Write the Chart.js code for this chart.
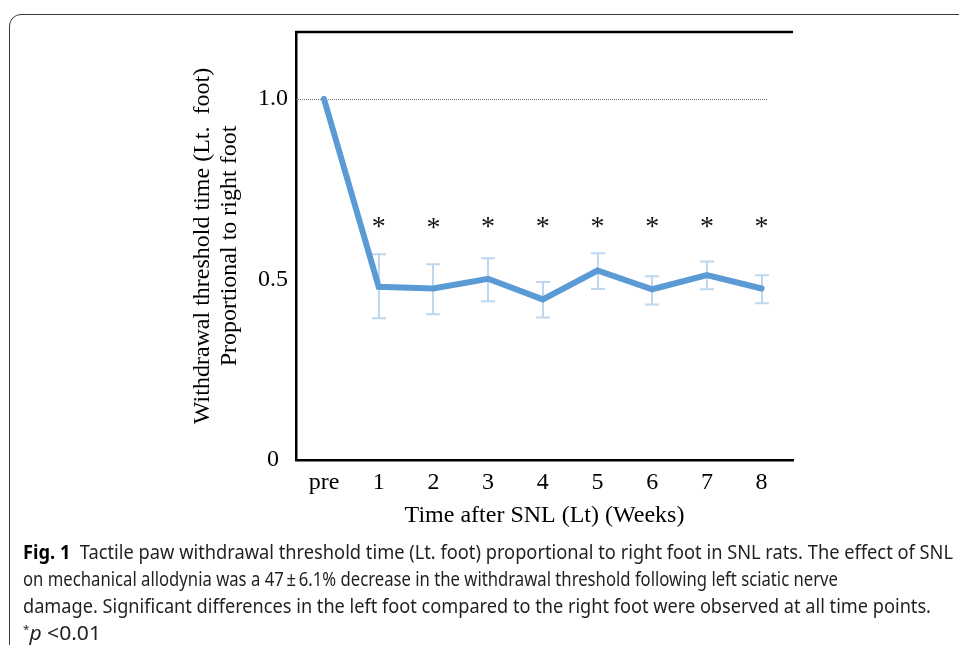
<!DOCTYPE html>
<html>
<head>
<meta charset="utf-8">
<script src="https://cdn.jsdelivr.net/npm/chart.js@4.4.0/dist/chart.umd.min.js"></script>
<style>
  html, body { margin: 0; padding: 0; background: #fff; }
  body { width: 959px; height: 645px; position: relative; overflow: hidden; }
  .frame {
    position: absolute; left: 9px; top: 14px; width: 990px; height: 700px;
    border: 1.5px solid #3a3a3a; border-top-left-radius: 12px; box-sizing: border-box;
  }
  .chart-box { position: absolute; left: 0; top: 0; width: 959px; height: 540px; }
  .caption {
    position: absolute; left: 23px; top: 538px;
    font-family: "Noto Sans", sans-serif; font-size: 20px; line-height: 27px;
    color: #231f20; white-space: nowrap;
  }
  .caption div { height: 27px; }
  .caption span { display: inline-block; transform-origin: 0 0; }
  .caption b { color: #000; }
  .caption sup { font-size: 11px; vertical-align: 7px; line-height: 0; }
</style>
</head>
<body>
<div class="frame"></div>
<div class="chart-box"><canvas id="my-chart"></canvas></div>
<div class="caption" id="caption">
  <div><span data-w="930"><b>Fig. 1</b>&nbsp; Tactile paw withdrawal threshold time (Lt. foot) proportional to right foot in SNL rats. The effect of SNL</span></div>
  <div><span data-w="815">on mechanical allodynia was a 47&thinsp;±&thinsp;6.1% decrease in the withdrawal threshold following left sciatic nerve</span></div>
  <div><span data-w="908">damage. Significant differences in the left foot compared to the right foot were observed at all time points.</span></div>
  <div><span data-w="78"><sup>*</sup><i>p</i> &lt;0.01</span></div>
</div>
<script>
// data
let weeks = ['pre', '1', '2', '3', '4', '5', '6', '7', '8'];
let ratio = [1.0, 0.480, 0.475, 0.502, 0.445, 0.525, 0.473, 0.512, 0.475];
let errUpper = [null, 0.570, 0.542, 0.559, 0.493, 0.573, 0.509, 0.550, 0.512];
let errLower = [null, 0.393, 0.404, 0.440, 0.395, 0.474, 0.431, 0.473, 0.434];
let starLevel = [null, 0.659, 0.654, 0.659, 0.659, 0.659, 0.659, 0.659, 0.659];
let yTicks = [0, 0.5, 1.0];
let refLevel = 1.0;

const xTitle = 'Time after SNL (Lt) (Weeks)';
const yTitle = ['Withdrawal threshold time (Lt.  foot)', 'Proportional to right foot'];

Chart.defaults.font.family = '"Liberation Serif", "DejaVu Serif", serif';
Chart.defaults.color = '#000';

const extras = {
    id: 'extras',
    beforeDatasetsDraw(chart) {
        const { ctx, chartArea, scales: { x, y } } = chart;
        ctx.save();

        // dotted line at 1.0
        const yRef = Math.round(y.getPixelForValue(refLevel)) + 0.5;
        ctx.strokeStyle = '#707070';
        ctx.lineWidth = 1;
        ctx.setLineDash([1, 1]);
        ctx.beginPath();
        ctx.moveTo(chartArea.left, yRef);
        ctx.lineTo(chartArea.right - 25, yRef);
        ctx.stroke();
        ctx.setLineDash([]);

        // error bars
        ctx.strokeStyle = '#bdd7ee';
        ctx.lineWidth = 2;
        for (let i = 0; i < weeks.length; i++) {
            if (errUpper[i] == null) continue;
            const px = Math.round(x.getPixelForValue(i));
            const top = y.getPixelForValue(errUpper[i]);
            const bot = y.getPixelForValue(errLower[i]);
            ctx.beginPath();
            ctx.moveTo(px, top); ctx.lineTo(px, bot);
            ctx.moveTo(px - 7, top); ctx.lineTo(px + 7, top);
            ctx.moveTo(px - 7, bot); ctx.lineTo(px + 7, bot);
            ctx.stroke();
        }
        ctx.restore();
    },
    afterDatasetsDraw(chart) {
        const { ctx, chartArea, scales: { x, y } } = chart;
        ctx.save();

        // top frame line
        ctx.strokeStyle = '#000';
        ctx.lineWidth = 2.5;
        ctx.beginPath();
        ctx.moveTo(chartArea.left - 1, chartArea.top);
        ctx.lineTo(chartArea.right, chartArea.top);
        ctx.stroke();

        // significance stars
        ctx.fillStyle = '#111';
        ctx.font = '28px "Liberation Serif", serif';
        ctx.textAlign = 'center';
        ctx.textBaseline = 'alphabetic';
        const m = ctx.measureText('*');
        const shift = (m.actualBoundingBoxAscent - m.actualBoundingBoxDescent) / 2;
        for (let i = 0; i < weeks.length; i++) {
            if (starLevel[i] == null) continue;
            ctx.fillText('*', x.getPixelForValue(i), y.getPixelForValue(starLevel[i]) + shift);
        }
        ctx.restore();
    }
};

const ctx = document.getElementById('my-chart').getContext('2d');

let myChart = new Chart(ctx, {
    type: 'line',
    data: {
        datasets: [{
            data: ratio.map((v, i) => ({ x: i, y: v })),
            borderColor: '#5b9bd5',
            borderWidth: 6,
            pointRadius: 0,
            tension: 0,
            borderCapStyle: 'round',
            borderJoinStyle: 'miter'
        }]
    },
    options: {
        responsive: true,
        maintainAspectRatio: false,
        animation: false,
        layout: { padding: { top: 32, right: 166, left: 0, bottom: 0 } },
        plugins: {
            legend: { display: false },
            tooltip: { enabled: false }
        },
        scales: {
            x: {
                type: 'linear',
                min: -0.512,
                max: 8.574,
                afterBuildTicks: s => { s.ticks = weeks.map((w, i) => ({ value: i })); },
                afterFit: s => { s.height = 80; },
                grid: { display: false },
                border: { display: true, color: '#000', width: 2.5 },
                ticks: {
                    color: '#000',
                    font: { size: 24 },
                    padding: 0,
                    autoSkip: false,
                    maxRotation: 0,
                    callback: v => weeks[v]
                },
                title: {
                    display: true,
                    text: xTitle,
                    color: '#000',
                    font: { size: 24 },
                    padding: { top: 0, bottom: 10 }
                }
            },
            y: {
                min: 0,
                max: 1.1856,
                afterBuildTicks: s => { s.ticks = yTicks.map(v => ({ value: v })); },
                afterFit: s => { s.width = 296; },
                grid: { display: false },
                border: { display: true, color: '#000', width: 2.5 },
                ticks: {
                    color: '#000',
                    font: { size: 24 },
                    padding: 0,
                    crossAlign: 'center',
                    callback: v => (v === 0 ? '0' : v.toFixed(1))
                },
                title: {
                    display: true,
                    text: yTitle,
                    color: '#000',
                    font: { size: 24, lineHeight: 1.1 },
                    padding: { top: 190, bottom: 0 }
                }
            }
        }
    },
    plugins: [extras]
});

// squeeze each caption line to the width of the printed one
document.querySelectorAll('#caption span[data-w]').forEach(el => {
    const w = el.getBoundingClientRect().width;
    el.style.transform = 'scaleX(' + (Number(el.dataset.w) / w) + ')';
});
</script>
</body>
</html>
